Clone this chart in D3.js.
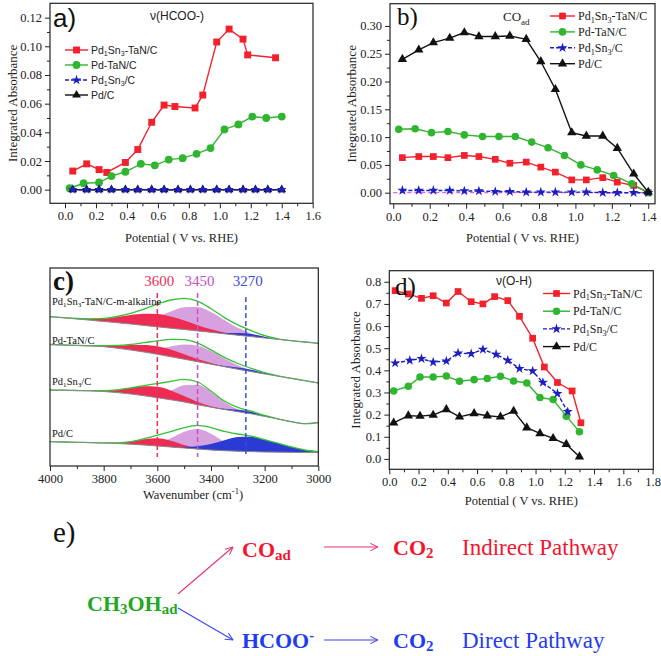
<!DOCTYPE html>
<html><head><meta charset="utf-8">
<script src="https://cdn.jsdelivr.net/npm/d3@7/dist/d3.min.js"></script>
<style>html,body{margin:0;padding:0;background:#fff}svg{display:block}</style>
</head><body>
<svg id="fig" width="661" height="656"></svg>
<script>
// ================= DATA =================
const seriesNames = ["Pd_{1}Sn_{3}-TaN/C", "Pd-TaN/C", "Pd_{1}Sn_{3}/C", "Pd/C"];

// ---- a) v(HCOO-) ----
const aRedX   = [0.05,0.14,0.22,0.27,0.39,0.47,0.56,0.64,0.71,0.84,0.89,0.98,1.06,1.15,1.18,1.36];
const aRedY   = [0.013,0.018,0.014,0.012,0.019,0.028,0.047,0.059,0.058,0.057,0.066,0.103,0.112,0.105,0.094,0.092];
const aGreenX = [0.03,0.12,0.22,0.30,0.39,0.49,0.58,0.67,0.76,0.85,0.94,1.03,1.12,1.21,1.30,1.40];
const aGreenY = [0.001,0.0045,0.005,0.0095,0.0125,0.018,0.017,0.021,0.022,0.025,0.029,0.042,0.0455,0.051,0.050,0.051];
const aBlueX  = [0.05,0.14,0.22,0.30,0.39,0.47,0.56,0.64,0.73,0.81,0.89,0.98,1.06,1.15,1.23,1.31,1.40];
const aBlueY  = [0,0,0,0,0,0,0,0,0,0,0,0,0,0,0,0,0];
const aBlackX = [0.05,0.14,0.22,0.30,0.39,0.47,0.56,0.64,0.73,0.81,0.89,0.98,1.06,1.15,1.23,1.31,1.40];
const aBlackY = [0,0,0,0,0,0,0,0,0,0,0,0,0,0,0,0,0];
const aXTicks = [0,0.2,0.4,0.6,0.8,1.0,1.2,1.4,1.6];
const aYTicks = [0,0.02,0.04,0.06,0.08,0.10,0.12];

// ---- b) CO_ad ----
const bRedX   = [0.05,0.14,0.22,0.30,0.39,0.47,0.56,0.64,0.73,0.81,0.89,0.98,1.06,1.15,1.23,1.32,1.40];
const bRedY   = [0.063,0.065,0.065,0.063,0.067,0.065,0.060,0.053,0.055,0.046,0.037,0.023,0.023,0.027,0.019,0.013,0.000];
const bGreenX = [0.03,0.12,0.21,0.30,0.39,0.49,0.58,0.67,0.76,0.85,0.94,1.03,1.12,1.21,1.31,1.40];
const bGreenY = [0.114,0.115,0.108,0.110,0.104,0.101,0.101,0.101,0.091,0.081,0.067,0.050,0.041,0.031,0.016,0.000];
const bBlueX  = [0.05,0.14,0.22,0.31,0.39,0.47,0.56,0.64,0.73,0.81,0.89,0.98,1.06,1.15,1.23,1.32,1.40];
const bBlueY  = [0.004,0.004,0.004,0.004,0.003,0.003,0.002,0.002,0.001,0.001,0.001,0.001,0.001,0.000,0.000,0.000,0.000];
const bBlackX = [0.05,0.14,0.22,0.31,0.39,0.47,0.56,0.64,0.73,0.81,0.89,0.98,1.06,1.15,1.23,1.32,1.40];
const bBlackY = [0.240,0.257,0.270,0.278,0.288,0.281,0.281,0.282,0.276,0.236,0.186,0.108,0.102,0.102,0.080,0.034,0.001];
const bZeroX  = [0, 1.4];
const bXTicks = [0,0.2,0.4,0.6,0.8,1.0,1.2,1.4];
const bYTicks = [0,0.05,0.10,0.15,0.20,0.25,0.30];

// ---- c) IR spectra, v(O-H) region ----
const cWN = [4000,3950,3900,3850,3800,3750,3700,3650,3600,3550,3500,3450,3400,3350,3300,3250,3200,3150,3100,3050,3000];
const cNames = ["Pd_{1}Sn_{3}-TaN/C-m-alkaline", "Pd-TaN/C", "Pd_{1}Sn_{3}/C", "Pd/C"];
const c1Base = [149.3,148.2,147.0,145.8,144.5,143.3,142.0,140.6,139.2,137.8,136.5,135.1,133.7,132.2,130.8,129.4,128.0,126.6,125.3,124.0,122.7];
const c1Red  = [0,0.2,0.5,1.4,3.0,5.7,8.9,11.6,12.7,11.6,8.9,5.7,3.0,1.4,0.5,0.2,0,0,0,0,0];
const c1Pink = [0,0,0,0,0.1,0.5,1.8,4.7,9.9,16.6,22.3,24.0,20.4,13.9,7.5,3.2,1.1,0.3,0,0,0];
const c1Blue = [0,0,0,0,0,0,0,0,0,0,0,0,0.2,0.9,2.3,2.5,1.2,0.25,0,0,0];
const c2Base = [121.5,121.0,120.5,120.0,119.3,117.8,116.0,114.0,111.7,109.3,106.8,104.3,101.8,99.3,96.8,94.4,92.0,89.8,87.7,85.3,83.0];
const c2Red  = [0,0,0.1,0.35,1.1,2.6,4.9,7.1,8.0,7.1,4.9,2.6,1.1,0.35,0.1,0,0,0,0,0,0];
const c2Pink = [0,0,0,0,0,0.15,0.65,2.2,5.4,10.2,14.6,15.9,13.1,8.2,3.9,1.4,0.4,0.1,0,0,0];
const c2Blue = [0,0,0,0,0,0,0,0,0,0,0,0,0.1,0.7,1.7,1.9,0.9,0.2,0,0,0];
const c3Base = [76.0,75.8,75.5,75.1,74.5,73.4,72.0,70.3,68.3,66.2,64.0,61.3,58.8,56.5,54.3,52.2,49.5,47.0,44.3,42.3,43.5];
const c3Red  = [0,0,0,0.2,0.9,2.7,5.9,9.4,11.0,9.4,5.9,2.7,0.9,0.2,0,0,0,0,0,0,0];
const c3Pink = [0,0,0,0,0,0,0.1,0.7,3.1,9.0,16.7,20.0,15.3,7.5,2.4,0.5,0.1,0,0,0,0];
const c3Blue = [0,0,0,0,0,0,0,0,0,0,0,0,0,0.8,1.9,2.1,1.0,0.2,0,0,0];
const c4Base = [24.3,24.0,23.7,23.4,23.0,22.5,21.8,21.0,20.0,19.0,18.0,17.0,16.0,15.3,14.8,14.4,14.0,13.8,13.6,13.5,13.5];
const c4Red  = [0,0,0,0,0.1,0.7,2.5,5.7,7.7,6.3,3.1,0.9,0.15,0,0,0,0,0,0,0,0];
const c4Pink = [0,0,0,0,0,0,0,0.7,3.1,8.8,16.3,20.0,16.3,8.8,3.1,0.7,0.1,0,0,0,0];
const c4Blue = [0,0,0,0,0,0,0,0,0,0.25,0.95,2.7,6.0,10.5,14.1,14.8,12.2,9.0,5.5,2.5,0.8];
const cPeaks = [3600, 3450, 3270];
const cPeakLabels = ["3600", "3450", "3270"];
const cXTicks = [4000,3800,3600,3400,3200,3000];

// ---- d) v(O-H) ----
const dRedX   = [0.04,0.13,0.22,0.30,0.39,0.47,0.56,0.64,0.72,0.81,0.89,0.98,1.06,1.15,1.25,1.31];
const dRedY   = [0.760,0.745,0.725,0.737,0.704,0.756,0.710,0.700,0.733,0.715,0.644,0.545,0.415,0.345,0.307,0.163];
const dGreenX = [0.03,0.13,0.21,0.30,0.39,0.48,0.58,0.67,0.76,0.85,0.94,1.03,1.12,1.21,1.30];
const dGreenY = [0.307,0.328,0.370,0.370,0.374,0.351,0.358,0.363,0.373,0.352,0.343,0.277,0.268,0.193,0.123];
const dBlueX  = [0.04,0.14,0.22,0.30,0.39,0.47,0.56,0.64,0.73,0.81,0.89,0.98,1.05,1.15,1.22];
const dBlueY  = [0.433,0.445,0.453,0.437,0.442,0.478,0.475,0.494,0.472,0.445,0.408,0.397,0.345,0.295,0.213];
const dBlackX = [0.03,0.13,0.21,0.30,0.39,0.48,0.58,0.67,0.76,0.85,0.94,1.03,1.12,1.21,1.30];
const dBlackY = [0.163,0.195,0.193,0.198,0.223,0.190,0.205,0.195,0.190,0.216,0.141,0.115,0.093,0.066,0.010];
const dXTicks = [0,0.2,0.4,0.6,0.8,1.0,1.2,1.4,1.6,1.8];
const dYTicks = [0,0.1,0.2,0.3,0.4,0.5,0.6,0.7,0.8];

// ================= DRAWING =================
const svg = d3.select("#fig");
const SERIF = "Liberation Serif, Times New Roman, serif";
const SANS = "Liberation Sans, Arial, sans-serif";
const RED = "#f2212b", GREEN = "#2fb52f", BLUE = "#1d1dc0", BLACK = "#111111";

function rich(t, s, size, subShift = 0.22, subScale = 0.68) {
  const re = /([_^])\{([^}]*)\}/g; let last = 0, m, cur = 0;
  const add = (txt, type) => {
    if (!txt) return;
    const target = type === 0 ? 0 : (type > 0 ? subShift * size : -0.38 * size);
    const ts = t.append("tspan").attr("dy", target - cur).text(txt);
    if (type !== 0) ts.attr("font-size", (size * subScale) + "px");
    cur = target;
  };
  while ((m = re.exec(s)) !== null) { add(s.slice(last, m.index), 0); add(m[2], m[1] === "_" ? 1 : -1); last = re.lastIndex; }
  add(s.slice(last), 0);
  return t;
}
function styleAxis(g, size) {
  g.attr("font-family", SERIF).attr("font-size", size);
  g.select(".domain").remove();
  g.selectAll(".tick line").attr("stroke", "#222").attr("stroke-width", 1);
  g.selectAll(".tick text").attr("fill", "#222").attr("font-family", SERIF).attr("font-size", size + "px");
}
const mids = arr => d3.pairs(arr).map(([a, b]) => (a + b) / 2);

function xyPanel(p) {
  const g = svg.append("g");
  const x = d3.scaleLinear().domain(p.xDomain).range([p.l, p.r]);
  const y = d3.scaleLinear().domain(p.yDomain).range([p.b, p.t]);
  const FS = 12.5;
  styleAxis(g.append("g").attr("transform", `translate(0,${p.b})`)
    .call(d3.axisBottom(x).tickValues(p.xTicks).tickSize(5).tickPadding(3).tickFormat(d3.format(p.xFmt))), FS);
  styleAxis(g.append("g").attr("transform", `translate(0,${p.b})`)
    .call(d3.axisBottom(x).tickValues(mids(p.xTicks)).tickSize(3).tickFormat("")), FS);
  styleAxis(g.append("g").attr("transform", `translate(${p.l},0)`)
    .call(d3.axisLeft(y).tickValues(p.yTicks).tickSize(5).tickPadding(3).tickFormat(d3.format(p.yFmt))), FS);
  styleAxis(g.append("g").attr("transform", `translate(${p.l},0)`)
    .call(d3.axisLeft(y).tickValues(mids(p.yTicks)).tickSize(3).tickFormat("")), FS);
  g.append("rect").attr("x", p.l).attr("y", p.t).attr("width", p.r - p.l).attr("height", p.b - p.t)
    .attr("fill", "none").attr("stroke", "#222").attr("stroke-width", 1.2);
  g.append("text").attr("transform", `translate(${p.ylabX},${(p.t + p.b) / 2}) rotate(-90)`)
    .attr("text-anchor", "middle").attr("font-family", SERIF).attr("font-size", "13px").attr("fill", "#222")
    .text("Integrated Absorbance");
  g.append("text").attr("x", (p.l + p.r) / 2).attr("y", p.xlabY).attr("text-anchor", "middle")
    .attr("font-family", SERIF).attr("font-size", "12.5px").attr("fill", "#222").text("Potential ( V vs. RHE)");
  if (p.extra) p.extra(g, x, y);
  p.series.forEach(s => {
    const pts = s.x.map((v, i) => [v, s.y[i]]);
    g.append("path").datum(pts).attr("d", d3.line().x(d => x(d[0])).y(d => y(d[1])))
      .attr("fill", "none").attr("stroke", s.color).attr("stroke-width", 1.4).attr("stroke-dasharray", s.dash || null);
    g.selectAll(null).data(pts).join("path")
      .attr("transform", d => `translate(${x(d[0])},${y(d[1])})`)
      .attr("d", d3.symbol(s.sym, s.size)).attr("fill", s.color);
  });
  const L = p.legend;
  L.order.forEach((si, k) => {
    const s = p.series[si];
    const cy = L.y + k * L.dy;
    g.append("line").attr("x1", L.x).attr("x2", L.x + L.len).attr("y1", cy).attr("y2", cy)
      .attr("stroke", s.color).attr("stroke-width", 1.4).attr("stroke-dasharray", s.dash || null);
    g.append("path").attr("transform", `translate(${L.x + L.len / 2},${cy})`).attr("d", d3.symbol(s.sym, s.size)).attr("fill", s.color);
    const t = g.append("text").attr("x", L.x + L.len + 3).attr("y", cy + L.size * 0.35)
      .attr("font-family", L.font).attr("font-size", L.size + "px").attr("fill", "#222");
    rich(t, s.name, L.size);
  });
  return { g, x, y };
}

const SQ = d3.symbolSquare, CI = d3.symbolCircle, ST = d3.symbolStar, TR = d3.symbolTriangle;

// ---------- Panel a ----------
xyPanel({
  l: 50, r: 313, t: 3.3, b: 203.3, xDomain: [-0.097, 1.602], yDomain: [-0.0095, 0.13],
  xTicks: aXTicks, yTicks: aYTicks, xFmt: ".1f", yFmt: ".2f", ylabX: 17, xlabY: 242,
  series: [
    { name: seriesNames[0], x: aRedX, y: aRedY, color: RED, sym: SQ, size: 48 },
    { name: seriesNames[1], x: aGreenX, y: aGreenY, color: GREEN, sym: CI, size: 48 },
    { name: seriesNames[3], x: aBlackX, y: aBlackY, color: BLACK, sym: TR, size: 34 },
    { name: seriesNames[2], x: aBlueX, y: aBlueY, color: BLUE, sym: ST, size: 30, dash: "4,2" }
  ],
  legend: { x: 65, y: 50, dy: 15, len: 23, font: SANS, size: 10.5, order: [0, 1, 3, 2] }
});
svg.append("text").attr("x", 53).attr("y", 26.5).attr("font-family", SANS).attr("font-size", "26px").attr("fill", "#111").text("a)");
svg.append("text").attr("x", 177).attr("y", 20).attr("text-anchor", "middle").attr("font-family", SANS).attr("font-size", "12px").attr("fill", "#222").text("ν(HCOO-)");

// ---------- Panel b ----------
xyPanel({
  l: 390, r: 655, t: 3.7, b: 203.8, xDomain: [-0.018, 1.437], yDomain: [-0.02, 0.34],
  xTicks: bXTicks, yTicks: bYTicks, xFmt: ".1f", yFmt: ".2f", ylabX: 356, xlabY: 242,
  extra: (g, x, y) => {
    g.append("path").datum(bZeroX.map(v => [v, 0])).attr("d", d3.line().x(d => x(d[0])).y(d => y(d[1])))
      .attr("stroke", "#e060e0").attr("stroke-width", 1.2).attr("stroke-dasharray", "4,3").attr("fill", "none");
  },
  series: [
    { name: seriesNames[0], x: bRedX, y: bRedY, color: RED, sym: SQ, size: 45 },
    { name: seriesNames[1], x: bGreenX, y: bGreenY, color: GREEN, sym: CI, size: 45 },
    { name: seriesNames[2], x: bBlueX, y: bBlueY, color: BLUE, sym: ST, size: 32, dash: "4,2" },
    { name: seriesNames[3], x: bBlackX, y: bBlackY, color: BLACK, sym: TR, size: 38 }
  ],
  legend: { x: 550, y: 16, dy: 15.9, len: 25, font: SERIF, size: 12, order: [0, 1, 2, 3] }
});
svg.append("text").attr("x", 397).attr("y", 25).attr("font-family", SERIF).attr("font-size", "25px").attr("fill", "#111").text("b)");
rich(svg.append("text").attr("x", 503).attr("y", 21).attr("font-family", SERIF).attr("font-size", "13px").attr("fill", "#222"), "CO_{ad}", 13, 0.3, 0.7);

// ---------- Panel d ----------
xyPanel({
  l: 389.3, r: 653.3, t: 270.7, b: 469.3, xDomain: [0, 1.805], yDomain: [-0.047, 0.85],
  xTicks: dXTicks, yTicks: dYTicks, xFmt: ".1f", yFmt: ".1f", ylabX: 360, xlabY: 505,
  series: [
    { name: seriesNames[0], x: dRedX, y: dRedY, color: RED, sym: SQ, size: 45 },
    { name: seriesNames[1], x: dGreenX, y: dGreenY, color: GREEN, sym: CI, size: 45 },
    { name: seriesNames[2], x: dBlueX, y: dBlueY, color: BLUE, sym: ST, size: 32, dash: "4,2" },
    { name: seriesNames[3], x: dBlackX, y: dBlackY, color: BLACK, sym: TR, size: 38 }
  ],
  legend: { x: 543, y: 293.5, dy: 17.7, len: 27, font: SERIF, size: 12, order: [0, 1, 2, 3] }
});
svg.append("text").attr("x", 395).attr("y", 295).attr("font-family", SERIF).attr("font-size", "25px").attr("fill", "#111").text("d)");
svg.append("text").attr("x", 514).attr("y", 285).attr("text-anchor", "middle").attr("font-family", SANS).attr("font-size", "12px").attr("fill", "#222").text("ν(O-H)");

// ---------- Panel c ----------
(function () {
  const l = 50, r = 318.3, t = 268, b = 466;
  const g = svg.append("g");
  const x = d3.scaleLinear().domain([4000, 3000]).range([l, r]);
  const y = d3.scaleLinear().domain([0, 198]).range([b, t]);
  styleAxis(g.append("g").attr("transform", `translate(0,${b})`)
    .call(d3.axisBottom(x).tickValues(cXTicks).tickSize(5).tickPadding(3).tickFormat(d3.format("d"))), 12.5);
  styleAxis(g.append("g").attr("transform", `translate(0,${b})`)
    .call(d3.axisBottom(x).tickValues(mids(cXTicks)).tickSize(3).tickFormat("")), 12.5);
  const spectra = [
    { base: c1Base, red: c1Red, pink: c1Pink, blue: c1Blue },
    { base: c2Base, red: c2Red, pink: c2Pink, blue: c2Blue },
    { base: c3Base, red: c3Red, pink: c3Pink, blue: c3Blue },
    { base: c4Base, red: c4Red, pink: c4Pink, blue: c4Blue }
  ];
  const FILL = { pink: "#d7a0df", red: "#ee2b52", blue: "#2b3ad2" };
  spectra.forEach(sp => {
    const pts = cWN.map((w, i) => ({ w, b: sp.base[i], red: sp.red[i], pink: sp.pink[i], blue: sp.blue[i] }));
    ["pink", "red", "blue"].forEach(k => {
      g.append("path").datum(pts).attr("fill", FILL[k])
        .attr("d", d3.area().curve(d3.curveMonotoneX).x(d => x(d.w)).y0(d => y(d.b)).y1(d => y(d.b + d[k])));
    });
    g.append("path").datum(pts).attr("fill", "none").attr("stroke", "#33c233").attr("stroke-width", 1.3)
      .attr("d", d3.line().curve(d3.curveMonotoneX).x(d => x(d.w)).y(d => y(d.b + d.red + d.pink + d.blue)));
    g.append("path").datum(pts).attr("fill", "none").attr("stroke", "#8a8a8a").attr("stroke-width", 1)
      .attr("d", d3.line().curve(d3.curveMonotoneX).x(d => x(d.w)).y(d => y(d.b)));
  });
  const peakColors = ["#ef2f5a", "#c44fc8", "#3a4cd6"];
  cPeaks.forEach((v, i) => {
    g.append("line").attr("x1", x(v)).attr("x2", x(v)).attr("y1", i === 2 ? 297 : 293).attr("y2", 457)
      .attr("stroke", peakColors[i]).attr("stroke-width", 1.5).attr("stroke-dasharray", "5,3");
    g.append("text").attr("x", x(v) + 2).attr("y", 286).attr("text-anchor", "middle")
      .attr("font-family", SERIF).attr("font-size", "15px").attr("fill", peakColors[i]).text(cPeakLabels[i]);
  });
  const labY = [305, 343.5, 385, 437];
  cNames.forEach((n, i) => {
    rich(g.append("text").attr("x", 52).attr("y", labY[i]).attr("font-family", SERIF).attr("font-size", "10.5px").attr("fill", "#111"), n, 10.5);
  });
  g.append("rect").attr("x", l).attr("y", t).attr("width", r - l).attr("height", b - t)
    .attr("fill", "none").attr("stroke", "#222").attr("stroke-width", 1.2);
  g.append("text").attr("x", 53).attr("y", 290).attr("font-family", SERIF).attr("font-weight", "bold").attr("font-size", "27px").attr("fill", "#111").text("c)");
  rich(g.append("text").attr("x", 193).attr("y", 499).attr("text-anchor", "middle").attr("font-family", SERIF).attr("font-size", "12.5px").attr("fill", "#222"), "Wavenumber (cm^{-1})", 12.5);
})();

// ---------- Panel e ----------
(function () {
  const g = svg.append("g");
  const ER = "#f5142f", EG = "#22a822", EB = "#1f3cf0", AR = "#e8307a", AB = "#3a44ee";
  const defs = svg.append("defs");
  [["arrR", AR], ["arrB", AB]].forEach(([id, c]) => {
    defs.append("marker").attr("id", id).attr("viewBox", "0 0 10 10").attr("refX", 9.5).attr("refY", 5)
      .attr("markerWidth", 8).attr("markerHeight", 8).attr("markerUnits", "userSpaceOnUse").attr("orient", "auto")
      .append("path").attr("d", "M0,0.5 L9.5,5 L0,9.5").attr("fill", "none").attr("stroke", c).attr("stroke-width", 1.3);
  });
  const arrow = (x1, y1, x2, y2, c, id) => g.append("line").attr("x1", x1).attr("y1", y1).attr("x2", x2).attr("y2", y2)
    .attr("stroke", c).attr("stroke-width", 1.1).attr("marker-end", `url(#${id})`);
  arrow(178, 594, 233, 547, AR, "arrR");
  arrow(178, 608, 233, 640, AB, "arrB");
  arrow(324, 547, 378, 547, AR, "arrR");
  arrow(324, 640, 378, 640, AB, "arrB");
  const txt = (x, y, s, c, size, bold) => rich(g.append("text").attr("x", x).attr("y", y)
    .attr("font-family", SERIF).attr("font-size", size + "px").attr("font-weight", bold ? "bold" : "normal").attr("fill", c), s, size, 0.14, 0.68);
  txt(53, 542, "e)", "#111", 29, false);
  txt(242, 557, "CO_{ad}", ER, 22, true);
  txt(393, 555, "CO_{2}", ER, 22, true);
  txt(462, 555, "Indirect Pathway", ER, 23, false);
  txt(87, 611, "CH_{3}OH_{ad}", EG, 22, true);
  txt(242, 648, "HCOO^{-}", EB, 22, true);
  txt(393, 648, "CO_{2}", EB, 22, true);
  txt(462, 648, "Direct Pathway", EB, 23, false);
})();
</script>
</body></html>
